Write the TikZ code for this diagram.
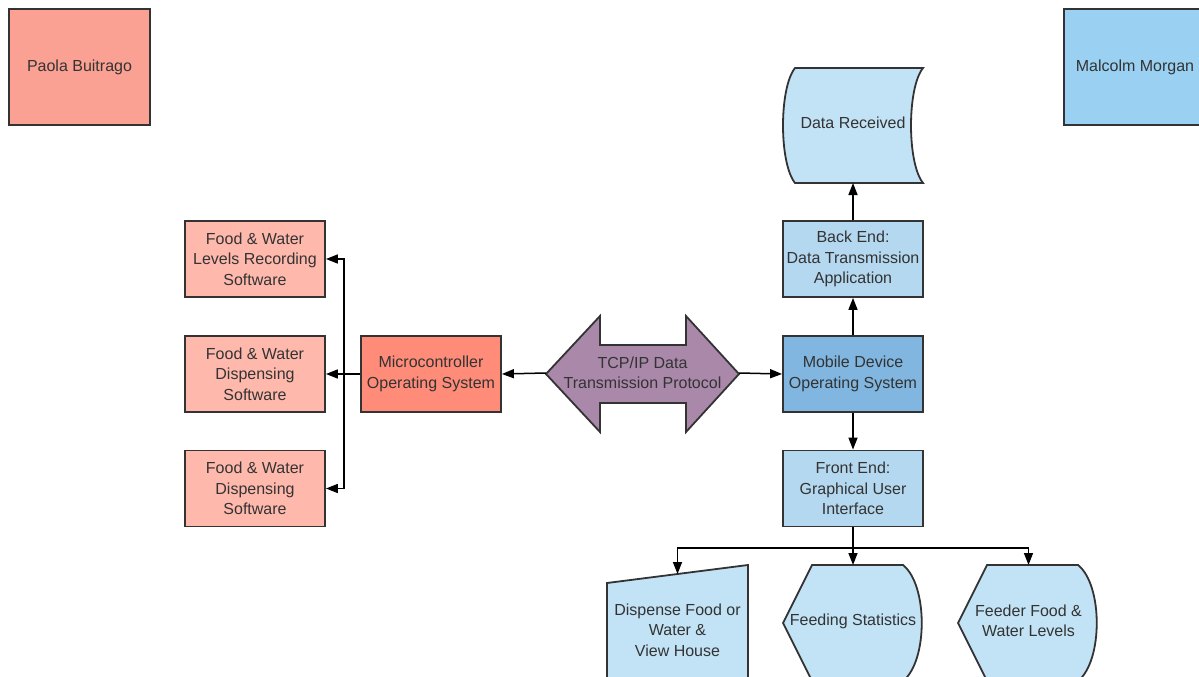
\documentclass[tikz,border=0pt]{standalone}
\usepackage{fontspec}
\setmainfont{Liberation Sans}
\usetikzlibrary{arrows.meta,backgrounds}
\definecolor{redA}{HTML}{FBA194}
\definecolor{redB}{HTML}{FF8B79}
\definecolor{redC}{HTML}{FFB8AC}
\definecolor{blueA}{HTML}{9AD1F2}
\definecolor{blueB}{HTML}{C2E3F6}
\definecolor{blueC}{HTML}{B4D8F0}
\definecolor{blueD}{HTML}{80B6E0}
\definecolor{purp}{HTML}{A988AA}
\definecolor{txt}{HTML}{333333}
\definecolor{edge}{HTML}{333333}
\tikzset{
  box/.style={draw=edge, line width=1.8pt, minimum width=140pt, minimum height=76pt,
    align=center, text=txt, font=\fontsize{16pt}{20.5pt}\selectfont, inner sep=0pt},
  ghost/.style={minimum width=140pt, minimum height=116pt, align=center, text=txt,
    font=\fontsize{16pt}{20.5pt}\selectfont, inner sep=0pt},
  shp/.style={draw=edge, line width=1.8pt},
  conn/.style={line width=1.5pt, -{Triangle[length=12pt,width=9pt]}},
  plain/.style={line width=1.5pt}
}
\begin{document}
\begin{tikzpicture}[x=1pt,y=-1pt]
\useasboundingbox (0,0) rectangle (1199,677);
\clip (0,0) rectangle (1199,677);
% name boxes
\node[box, fill=redA, minimum width=141pt, minimum height=116pt] (paola) at (79.5,67) {Paola Buitrago};
\node[box, fill=blueA, minimum width=142pt, minimum height=116pt] (malcolm) at (1135,67) {Malcolm Morgan};
% right column
\node[ghost] (dr) at (853,123) {Data Received};
\node[box, fill=blueC] (be) at (853,259) {Back End:\\Data Transmission\\Application};
\node[box, fill=blueD] (mob) at (853,374) {Mobile Device\\Operating System};
\node[box, fill=blueC] (fe) at (853,488.5) {Front End:\\Graphical User\\Interface};
% left
\node[box, fill=redB] (mc) at (431,374) {Microcontroller\\Operating System};
\node[box, fill=redC] (l1) at (255,259) {Food \& Water\\Levels Recording\\Software};
\node[box, fill=redC] (l2) at (255,374) {Food \& Water\\Dispensing\\Software};
\node[box, fill=redC] (l3) at (255,488.5) {Food \& Water\\Dispensing\\Software};
% TCP
\node[ghost, minimum width=193pt, minimum height=117pt] (tcp) at (642.5,373) {TCP/IP Data\\Transmission Protocol};
% bottom
\node[ghost] (fs) at (853,621) {Feeding Statistics};
\node[ghost] (ff) at (1028.5,621) {Feeder Food \&\\Water Levels};
\node[align=center, text=txt, font=\fontsize{16pt}{20.5pt}\selectfont, inner sep=0pt] (dis) at (677.5,630) {Dispense Food or\\Water \&\\View House};
\coordinate (dtop) at (677.5,574);
\begin{scope}[on background layer]
  \draw[shp, fill=blueB] (795,68) -- (923,68) .. controls (907,88) and (907,163) .. (923,183)
    -- (795,183) .. controls (779,163) and (779,88) .. (795,68) -- cycle;
  \draw[shp, fill=purp] (546,374) -- (600,316) -- (600,345) -- (686,345) -- (686,316) -- (739,374)
    -- (686,432) -- (686,403) -- (600,403) -- (600,432) -- cycle;
  \draw[shp, fill=blueB] (607,583) -- (748,565) -- (748,695) -- (607,695) -- cycle;
  \draw[shp, fill=blueB] (783,623) -- (812,565) -- (903,565) .. controls (928,585) and (928,661) .. (903,681)
    -- (812,681) -- cycle;
  \draw[shp, fill=blueB] (958,623) -- (987,565) -- (1078,565) .. controls (1103,585) and (1103,661) .. (1078,681)
    -- (987,681) -- cycle;
\end{scope}
% connectors
\coordinate (drb) at (853,183);
\coordinate (fst) at (853,565);
\coordinate (fft) at (1028.5,565);
\draw[conn] (mob) -- (be);
\draw[conn] (be) -- (drb);
\draw[conn] (mob) -- (fe);
\draw[conn] (tcp.east) -- (mob.west);
\draw[conn] (tcp.west) -- (mc.east);
\coordinate (t) at (344,374);
\draw[plain] (mc.west) -- (t);
\draw[conn] (t) |- (l1.east);
\draw[conn] (t) -- (l2.east);
\draw[conn] (t) |- (l3.east);
\coordinate (j) at (853,548);
\draw[plain] (fe.south) -- (j);
\draw[conn] (j) -| (dtop);
\draw[conn] (j) -- (fst);
\draw[conn] (j) -| (fft);
\end{tikzpicture}
\end{document}
